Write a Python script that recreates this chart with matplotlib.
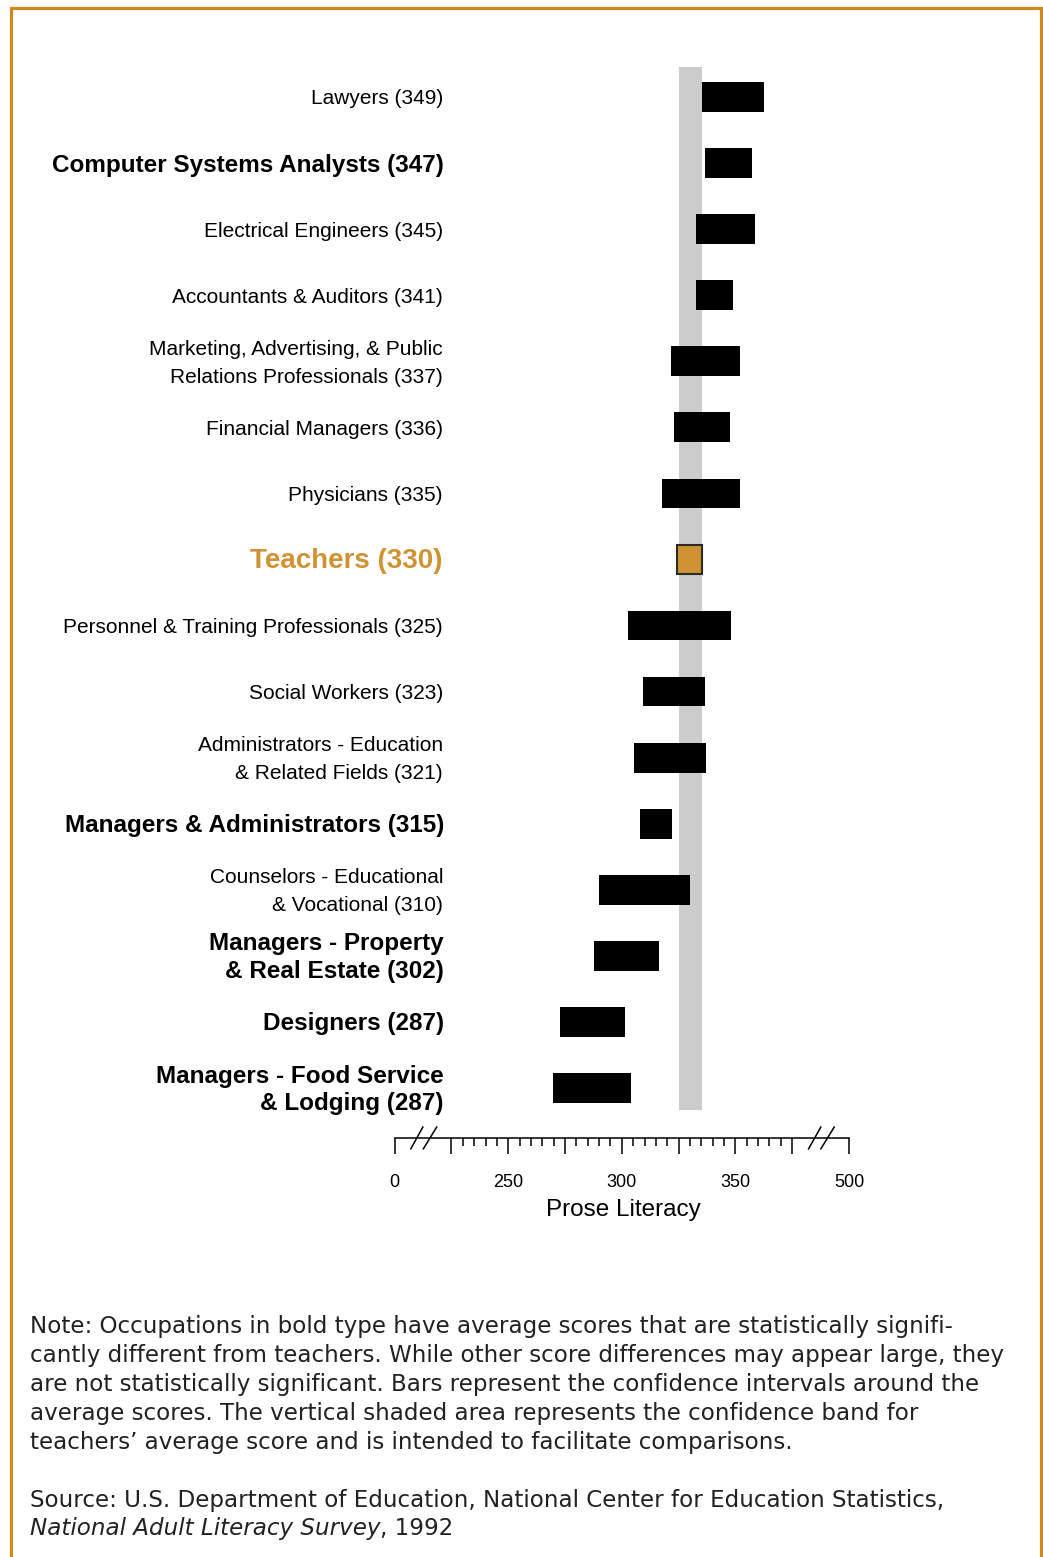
import numpy as np
import matplotlib.pyplot as plt
from matplotlib.patches import Rectangle
from matplotlib.ticker import FixedLocator, FixedFormatter
import matplotlib.transforms as mtransforms

# occupations, top to bottom
occupations = ["Lawyers (349)",
               "Computer Systems Analysts (347)",
               "Electrical Engineers (345)",
               "Accountants & Auditors (341)",
               "Marketing, Advertising, & Public\nRelations Professionals (337)",
               "Financial Managers (336)",
               "Physicians (335)",
               "Teachers (330)",
               "Personnel & Training Professionals (325)",
               "Social Workers (323)",
               "Administrators - Education\n& Related Fields (321)",
               "Managers & Administrators (315)",
               "Counselors - Educational\n& Vocational (310)",
               "Managers - Property\n& Real Estate (302)",
               "Designers (287)",
               "Managers - Food Service\n& Lodging (287)"]
ci_low = [335.3, 336.6, 332.6, 332.6, 321.6, 323.0, 317.6, 324.3,
          302.6, 309.3, 305.3, 308.0, 289.9, 287.6, 272.6, 269.6]
ci_high = [362.6, 357.3, 358.7, 349.0, 352.0, 347.6, 352.0, 335.4,
           348.0, 336.6, 337.0, 322.0, 330.0, 316.3, 301.3, 304.0]
significant = [False, True, False, False, False, False, False, False,
               False, False, False, True, False, True, True, True]
teacher_idx = 7
teacher_band = (325.0, 335.5)

# broken axis: 0 sits at 200, 500 sits at 400 on the drawing scale
tick_pos = [200, 225, 250, 275, 300, 325, 350, 375, 400]
tick_labels = ["0", "", "250", "", "300", "", "350", "", "500"]

note_lines = [
    "Note: Occupations in bold type have average scores that are statistically signifi-",
    "cantly different from teachers. While other score differences may appear large, they",
    "are not statistically significant. Bars represent the confidence intervals around the",
    "average scores. The vertical shaded area represents the confidence band for",
    "teachers\u2019 average score and is intended to facilitate comparisons.",
]
source_line = "Source: U.S. Department of Education, National Center for Education Statistics,"
source_italic = "National Adult Literacy Survey"

gold = "#D0891E"
teacher_col = "#D09232"
W, H = 1043, 1557

plt.rcParams['font.family'] = ['Liberation Sans', 'DejaVu Sans']
fig = plt.figure(figsize=(W / 100, H / 100), dpi=100)

# gold frame (open at bottom)
fig.patches.append(Rectangle((11 / W, -0.01), (1040.5 - 11) / W, 1.01 - 8.3 / H,
                             transform=fig.transFigure, fill=False,
                             edgecolor=gold, linewidth=2.3))

ax = fig.add_axes([394.7 / W, (H - 1138) / H, (849 - 394.7) / W, (1138 - 67) / H])
ax.set_xlim(200, 400)
ax.set_ylim(15.756, -0.454)

rows = np.arange(len(occupations))
ax.fill_betweenx([-0.454, 15.33], teacher_band[0], teacher_band[1],
                 color="#CCCCCC", linewidth=0, zorder=1)

lows = np.array(ci_low)
highs = np.array(ci_high)
colors = ["black"] * len(rows)
colors[teacher_idx] = teacher_col
edges = ["black"] * len(rows)
edges[teacher_idx] = "#2a2a2a"
lws = [0] * len(rows)
lws[teacher_idx] = 1.5
ax.barh(rows, highs - lows, left=lows, height=0.45, color=colors,
        edgecolor=edges, linewidth=lws, zorder=2)

# row labels
trans = mtransforms.blended_transform_factory(fig.transFigure, ax.transData)
for i, name in enumerate(occupations):
    y = i + 0.03
    if i == teacher_idx:
        ax.text(443 / W, y, name, transform=trans, ha='right', va='center',
                fontsize=20, fontweight='bold', color=teacher_col)
    elif significant[i]:
        ax.text(444 / W, y, name, transform=trans, ha='right', va='center',
                fontsize=17.5, fontweight='bold', multialignment='right',
                linespacing=1.27)
    else:
        ax.text(443 / W, y, name, transform=trans, ha='right', va='center',
                fontsize=15, multialignment='right', linespacing=1.6)

# axis
for s in ['top', 'left', 'right']:
    ax.spines[s].set_visible(False)
ax.spines['bottom'].set_linewidth(1.1)
ax.set_yticks([])
ax.xaxis.set_major_locator(FixedLocator(tick_pos))
ax.xaxis.set_major_formatter(FixedFormatter(tick_labels))
ax.xaxis.set_minor_locator(FixedLocator([v for v in range(230, 375, 5) if v % 25 != 0]))
ax.tick_params(axis='x', which='major', length=11.5, width=1.1, labelsize=13, pad=14.5)
ax.tick_params(axis='x', which='minor', length=5.5, width=1.1)

# break marks
for x0, x1 in [(207.1, 212.4), (212.6, 218.5), (382.2, 387.6), (387.6, 393.5)]:
    ax.plot([x0, x1], [15.92, 15.59], color='black', lw=1.1, clip_on=False)

fig.text(623 / W, 1 - 1210 / H, "Prose Literacy", ha='center', va='center', fontsize=17.5)

# notes
note_font = ['DejaVu Sans']
note_size = 16.6
for k, line in enumerate(note_lines):
    fig.text(30 / W, 1 - (1327 + 28.75 * k) / H, line, ha='left', va='center',
             fontsize=note_size, family=note_font, color='#222222')
fig.text(30 / W, 1 - 1500 / H, source_line, ha='left', va='center',
         fontsize=note_size, family=note_font, color='#222222')
t_it = fig.text(30 / W, 1 - 1529 / H, source_italic, ha='left', va='center',
                fontsize=note_size, family=note_font, style='italic', color='#222222')
ax.annotate(", 1992", xy=(1, 0.5), xycoords=t_it, ha='left', va='center',
            fontsize=note_size, family=note_font, color='#222222', annotation_clip=False)

fig.savefig("out.png", dpi=100)
